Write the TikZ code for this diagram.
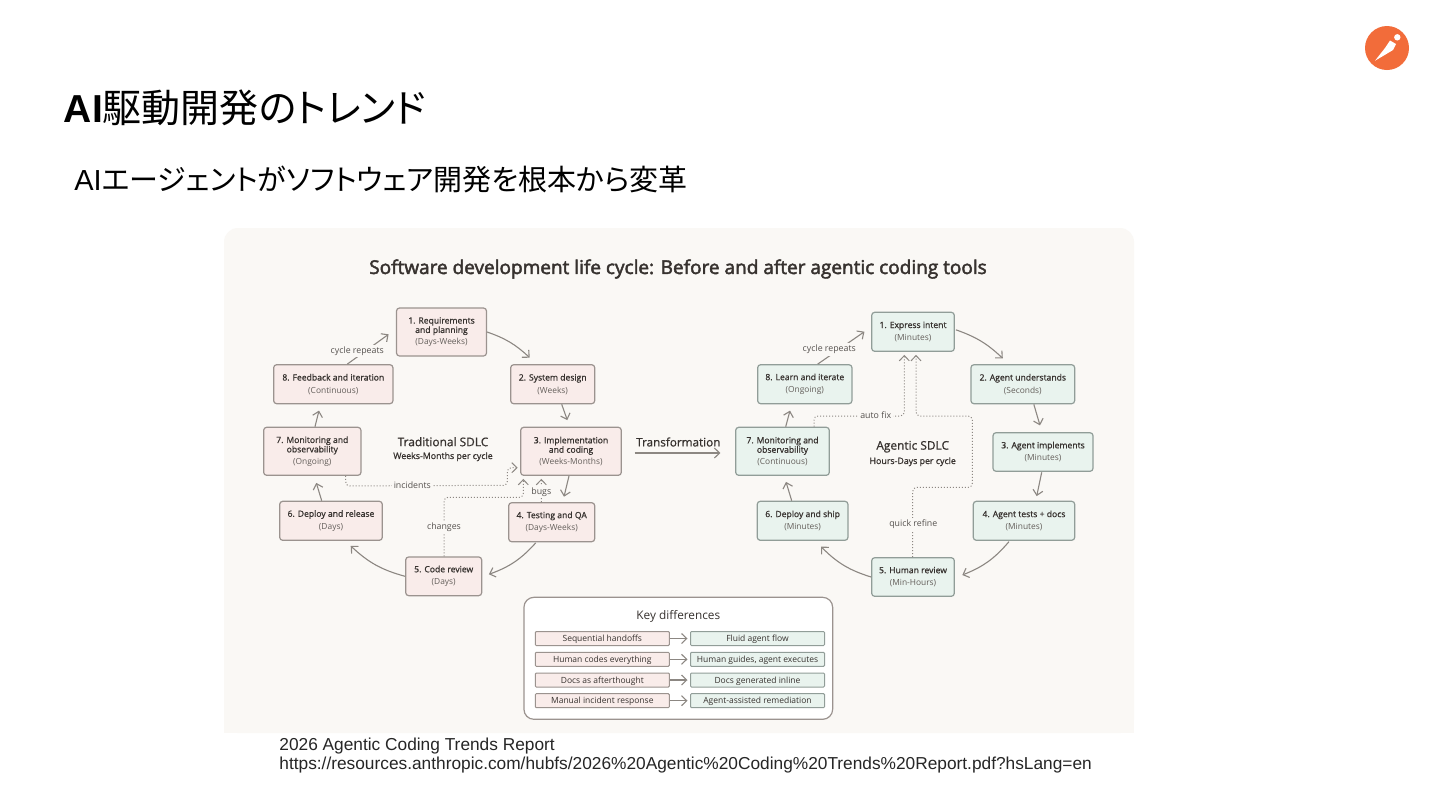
\documentclass[tikz,border=0pt]{standalone}
\usepackage{fontspec}
\usepackage{xcolor}
\usetikzlibrary{calc,arrows.meta}
\setmainfont{Open Sans}
\newfontfamily\headfont{Liberation Sans}
\newfontfamily\cjkfont[RawFeature=+palt]{Noto Sans CJK JP}
\newfontfamily\medfont[FakeBold=0.9]{Open Sans}
\newfontfamily\heavyfont[FakeBold=2.4]{Open Sans}
\newfontfamily\durfont{Open Sans}
\definecolor{qpanel}{RGB}{250, 248, 245}
\definecolor{qpink}{RGB}{249, 236, 234}
\definecolor{qgreen}{RGB}{233, 243, 238}
\definecolor{qborder}{RGB}{155, 147, 143}
\definecolor{qborderg}{RGB}{145, 157, 152}
\definecolor{qline}{RGB}{140, 135, 130}
\definecolor{qtext}{RGB}{55, 50, 47}
\definecolor{qdur}{RGB}{100, 95, 91}
\definecolor{qlogo}{RGB}{242, 108, 58}
\newcommand{\durtext}[1]{{\durfont\color{qdur}\fontsize{4.2}{5}\selectfont #1}}
\tikzset{
    sz/.style 2 args={minimum width=#1*0.5pt, minimum height=#2*0.5pt},
    stepbox/.style={draw, line width=0.6pt, rounded corners=1.5pt, inner sep=0pt, align=center,
        text=qtext, font=\medfont\fontsize{4.3}{4.7}\selectfont},
    tradbox/.style={stepbox, draw=qborder, fill=qpink},
    agentbox/.style={stepbox, draw=qborderg, fill=qgreen},
    flowline/.style={-{Straight Barb[length=2.6pt,width=5pt]}, line width=0.55pt, draw=qline},
    dotline/.style={-{Straight Barb[length=2.6pt,width=5pt]}, line width=0.5pt, draw=qline,
        densely dotted, rounded corners=2pt},
    linklabel/.style={fill=qpanel, inner sep=1pt, text=qtext!85, font=\fontsize{4.4}{5}\selectfont},
    rowbox/.style={draw, line width=0.5pt, rounded corners=0.5pt, inner sep=0pt, minimum height=7pt,
        text height=3.7pt, text depth=0.6pt, text=qtext, font=\fontsize{4.25}{5}\selectfont},
}
\begin{document}
\begin{tikzpicture}[x=0.5pt, y=-0.5pt]
    \useasboundingbox (0,0) rectangle (1440,810);
    \fill[white] (0,0) rectangle (1440,810);

    % slide heading
    \node[anchor=west, inner sep=0pt, font=\fontsize{19.5}{22}\selectfont] (slidetitle) at (63.5,108)
        {\headfont\bfseries AI\cjkfont\mdseries 駆動開発のトレンド};
    \node[anchor=west, inner sep=0pt, font=\fontsize{14.5}{17}\selectfont] (slidesub) at (74,179)
        {\headfont AI\cjkfont エージェントがソフトウェア開発を根本から変革};

    % logo
    \fill[qlogo] (1387,48) circle (22);
    \fill[white] (1397.3,37.3) circle (3.2);
    \fill[white] (1375,60.7) -- (1385,48) -- (1390,40.5) -- (1396,44) -- (1393,50) -- (1383,56) -- cycle;

    % panel
    \fill[qpanel, rounded corners=7pt] (224,228) -- (1134,228) -- (1134,733) -- (224,733) -- cycle;
    \fill[qpanel] (224,700) rectangle (1134,733);
    \node[text=qtext, font=\heavyfont\fontsize{9.5}{10}\selectfont] (paneltitle) at (678,269)
        {Software development life cycle: Before and after agentic coding tools};

    % traditional cycle
    \node[tradbox, sz={90}{48}] (L1) at (441.5,332) {1. Requirements\\and planning\\[1.2pt]\durtext{(Days-Weeks)}};
    \node[tradbox, sz={84}{39}] (L2) at (552.7,384.2) {2. System design\\[1.6pt]\durtext{(Weeks)}};
    \node[tradbox, sz={100.6}{48}] (L3) at (571,451.3) {3. Implementation\\and coding\\[1.2pt]\durtext{(Weeks-Months)}};
    \node[tradbox, sz={86}{39}] (L4) at (551.7,522.2) {4. Testing and QA\\[1.6pt]\durtext{(Days-Weeks)}};
    \node[tradbox, sz={76}{38.7}] (L5) at (443.7,576.3) {5. Code review\\[1.6pt]\durtext{(Days)}};
    \node[tradbox, sz={102.6}{39}] (L6) at (331,520.8) {6. Deploy and release\\[1.6pt]\durtext{(Days)}};
    \node[tradbox, sz={97.3}{48}] (L7) at (312.3,451.3) {7. Monitoring and\\observability\\[1.2pt]\durtext{(Ongoing)}};
    \node[tradbox, sz={119.3}{39}] (L8) at (333.3,384.2) {8. Feedback and iteration\\[1.6pt]\durtext{(Continuous)}};

    \draw[flowline] (L1.east) to[bend left=12] ($(L2.north)+(-23,-6.4)$);
    \draw[flowline] ($(L2.south)+(9,0)$) -- ($(L3.north)+(-3.7,-6.6)$);
    \draw[flowline] ($(L3.south)+(-2,0)$) -- ($(L4.north)+(12.3,-5.4)$);
    \draw[flowline] ($(L4.south)+(-16,0.6)$) to[bend left=14] ($(L5.east)+(6.6,-2)$);
    \draw[flowline] (L5.west) to[bend left=14] ($(L6.south)+(19.7,5)$);
    \draw[flowline] ($(L6.north)+(-9.3,0)$) -- ($(L7.south)+(4,7)$);
    \draw[flowline] ($(L7.north)+(2.7,0)$) -- ($(L8.south)+(-14.3,6.3)$);
    \draw[flowline] ($(L8.north)+(14,0)$) -- ($(L1.west)+(-7.3,2.3)$);
    \node[linklabel] (repeatL) at (357.3,351) {cycle repeats};

    \draw[dotline] ($(L7.south)+(33.4,0)$) -- ++(0,10) -- (507.3,485.3) -- (507.3,467.7) -- ($(L3.west)+(-2.4,16.4)$);
    \draw[dotline] ($(L5.north)+(0.3,0)$) -- (444,497.3) -- (523.3,497.3) -- ($(L3.south)+(-47.7,3)$);
    \draw[dotline] ($(L4.north)+(-10.4,0)$) -- ($(L3.south)+(-29.7,3)$);
    \node[linklabel] (incidents) at (412.3,485.3) {incidents};
    \node[linklabel] (changes) at (444,527.6) {changes};
    \node[linklabel] (bugs) at (541.3,492) {bugs};

    \node[text=qtext, inner sep=0pt, font=\medfont\fontsize{5.95}{7}\selectfont] (tradname) at (443,441.7) {Traditional SDLC};
    \node[text=qtext, inner sep=0pt, font=\medfont\fontsize{4.4}{5}\selectfont] (tradtime) at (443,456.7) {Weeks-Months per cycle};

    % agentic cycle
    \node[agentbox, sz={82.6}{39}] (R1) at (913,331.8) {1. Express intent\\[1.6pt]\durtext{(Minutes)}};
    \node[agentbox, sz={103.7}{39}] (R2) at (1022.8,384.2) {2. Agent understands\\[1.6pt]\durtext{(Seconds)}};
    \node[agentbox, sz={100}{38.6}] (R3) at (1043,452) {3. Agent implements\\[1.6pt]\durtext{(Minutes)}};
    \node[agentbox, sz={101.4}{39}] (R4) at (1024,520.8) {4. Agent tests + docs\\[1.6pt]\durtext{(Minutes)}};
    \node[agentbox, sz={82.6}{38.6}] (R5) at (913,577) {5. Human review\\[1.6pt]\durtext{(Min-Hours)}};
    \node[agentbox, sz={90.7}{39}] (R6) at (802.6,520.8) {6. Deploy and ship\\[1.6pt]\durtext{(Minutes)}};
    \node[agentbox, sz={93.6}{48}] (R7) at (782.5,451.3) {7. Monitoring and\\observability\\[1.2pt]\durtext{(Continuous)}};
    \node[agentbox, sz={94.3}{39}] (R8) at (804.8,384.2) {8. Learn and iterate\\[1.6pt]\durtext{(Ongoing)}};

    \draw[flowline] ($(R1.east)+(1,-2)$) to[bend left=12] ($(R2.north)+(-20,-5.7)$);
    \draw[flowline] ($(R2.south)+(11,0)$) -- ($(R3.north)+(-3,-6.7)$);
    \draw[flowline] ($(R3.south)+(-1.3,0.4)$) -- ($(R4.north)+(12.7,-4.6)$);
    \draw[flowline] ($(R4.south)+(-15,0.7)$) to[bend left=14] ($(R5.east)+(7.4,-2)$);
    \draw[flowline] (R5.west) to[bend left=14] ($(R6.south)+(18.4,5.7)$);
    \draw[flowline] ($(R6.north)+(-10.9,0)$) -- ($(R7.south)+(3.5,6)$);
    \draw[flowline] ($(R7.north)+(3.2,0)$) -- ($(R8.south)+(-14.8,6.3)$);
    \draw[flowline] ($(R8.north)+(12.9,0)$) -- ($(R1.west)+(-6.7,-0.1)$);
    \node[linklabel] (repeatR) at (829.3,349.6) {cycle repeats};

    \draw[dotline] ($(R7.north)+(31.5,0)$) -- (814,416) -- (904.3,416) -- ($(R1.south)+(-8.7,3)$);
    \draw[dotline] ($(R5.north)+(-0.3,0)$) -- (912.7,487.3) -- (972.3,487.3) -- (972.3,416) -- (916,416) -- ($(R1.south)+(3,3)$);
    \node[linklabel] (autofix) at (875.7,415.6) {auto fix};
    \node[linklabel] (quickrefine) at (913.3,524.6) {quick refine};

    \node[text=qtext, inner sep=0pt, font=\medfont\fontsize{5.95}{7}\selectfont] (agentname) at (912.7,446.7) {Agentic SDLC};
    \node[text=qtext, inner sep=0pt, font=\medfont\fontsize{4.4}{5}\selectfont] (agenttime) at (912.7,461.7) {Hours-Days per cycle};

    % transformation arrow
    \node[text=qtext, inner sep=0pt, font=\medfont\fontsize{5.85}{7}\selectfont] (transform) at (678.3,442) {Transformation};
    \draw[flowline] ($(L3.east)+(12.7,1.7)$) -- ($(R7.west)+(-14.7,1.7)$);

    % key differences
    \node[draw=qborder, line width=0.6pt, fill=white, rounded corners=5pt, sz={308.7}{122}] (keybox) at (678.3,658.3) {};
    \node[text=qtext, inner sep=0pt, font=\fontsize{5.9}{7}\selectfont] (keytitle) at (678.3,616.5) {Key differences};
    \foreach \y/\a/\b/\n in {
        638.5/Sequential handoffs/Fluid agent flow/a,
        659.3/Human codes everything/{Human guides, agent executes}/b,
        680/Docs as afterthought/Docs generated inline/c,
        700.7/Manual incident response/Agent-assisted remediation/d} {
        \node[rowbox, draw=qborder, fill=qpink, minimum width=67pt] (old\n) at (602.3,\y) {\a};
        \node[rowbox, draw=qborderg, fill=qgreen, minimum width=67pt] (new\n) at (757.5,\y) {\b};
        \draw[flowline] (old\n) -- ($(new\n.west)+(-2.5,0)$);
    }

    % source
    \node[anchor=north west, inner sep=0pt, align=left, text=black!85,
        font=\headfont\fontsize{8.65}{9.5}\selectfont] (source) at (279,737.5)
        {2026 Agentic Coding Trends Report\\https://resources.anthropic.com/hubfs/2026\%20Agentic\%20Coding\%20Trends\%20Report.pdf?hsLang=en};
\end{tikzpicture}
\end{document}
